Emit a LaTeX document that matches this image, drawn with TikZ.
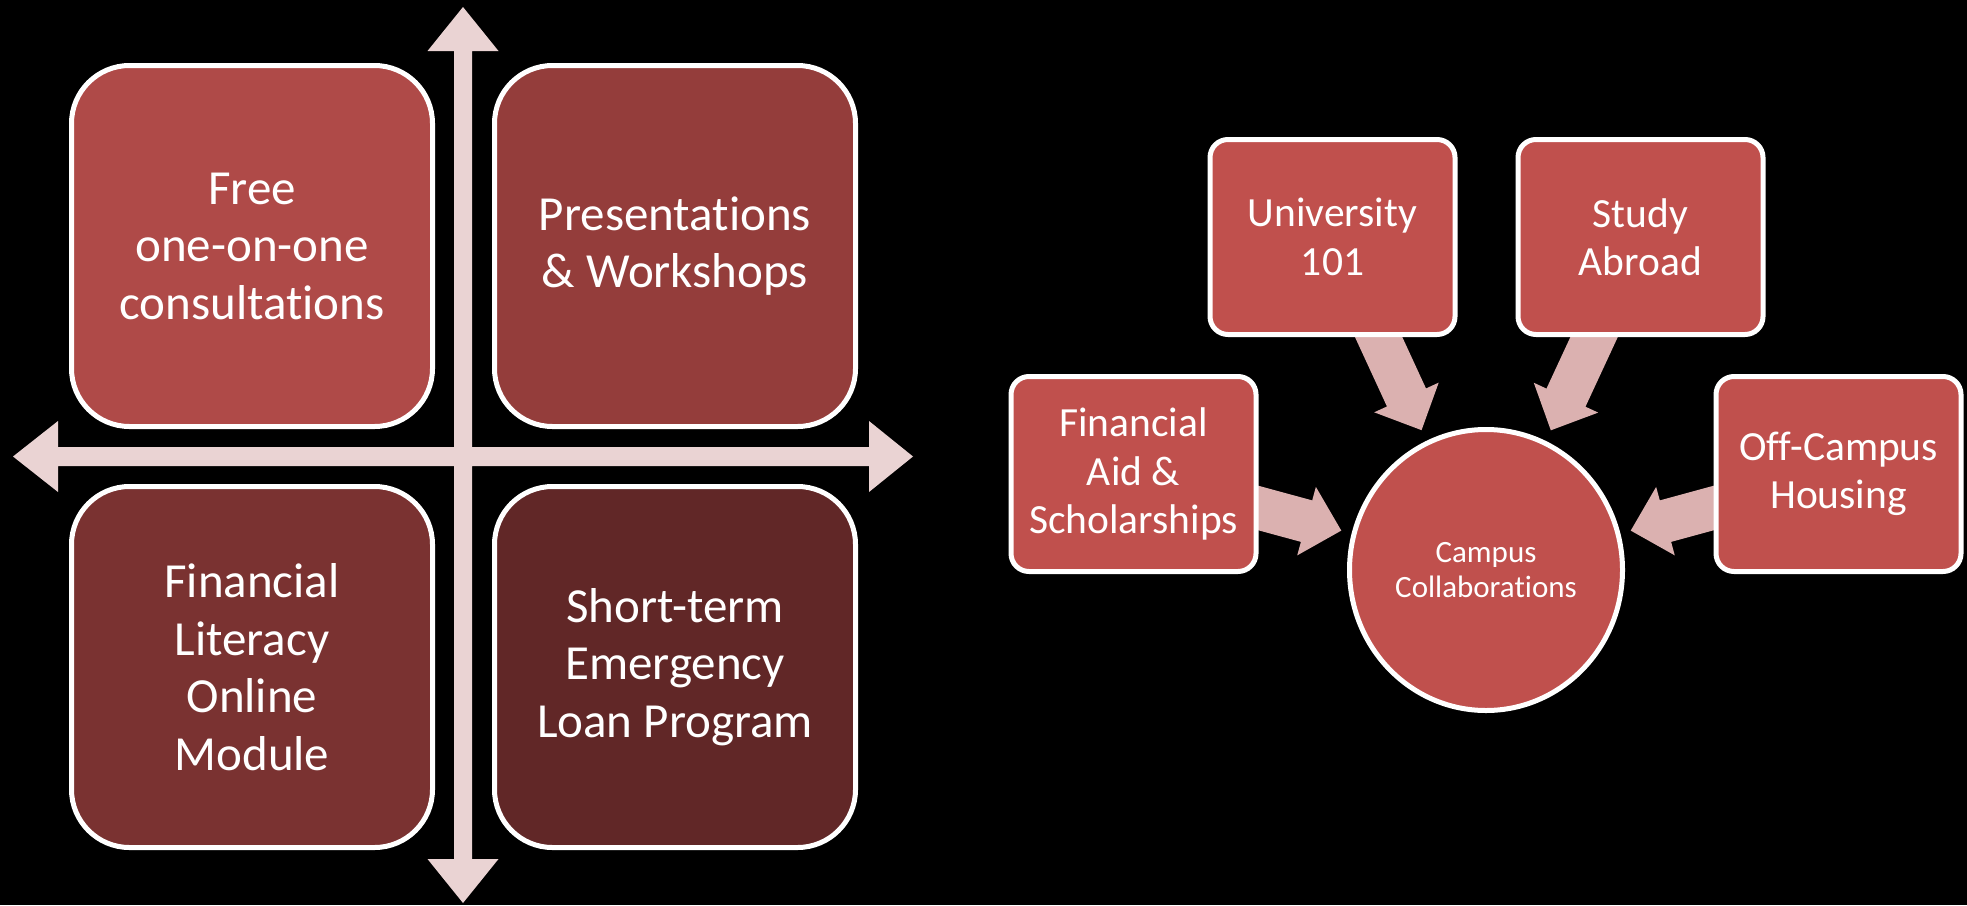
\documentclass[tikz,border=0pt]{standalone}
\usepackage{fontspec}
\setmainfont{Carlito}[Ligatures={NoCommon}]
\usetikzlibrary{calc,shapes.geometric}
\pgfdeclarelayer{bg}
\pgfsetlayers{bg,main}

\definecolor{accent}{HTML}{C0504D}
\definecolor{qone}{HTML}{AF4A48}
\definecolor{qtwo}{HTML}{943D3B}
\definecolor{qthree}{HTML}{7A3231}
\definecolor{qfour}{HTML}{612727}
\definecolor{axiscol}{HTML}{EAD3D3}
\definecolor{feedcol}{HTML}{DBB1B0}

% block arrow: #1 start, #2 tip, #3 half shaft, #4 half head, #5 head length
\newcommand\blkarrow[5]{%
  \path coordinate (hb) at ($(#2)!#5!(#1)$);
  \fill[feedcol] ($(#1)!#3!90:(#2)$) -- ($(hb)!#3!90:(#2)$) -- ($(hb)!#4!90:(#2)$)
    -- (#2) -- ($(hb)!#4!-90:(#2)$) -- ($(hb)!#3!-90:(#2)$) -- ($(#1)!#3!-90:(#2)$) -- cycle;
}

\tikzset{
  quad/.style={rectangle, rounded corners=58pt, draw=white, line width=5pt,
    minimum width=361pt, minimum height=361pt, inner sep=0pt, text=white,
    align=center, font=\fontsize{49}{57.5}\selectfont},
  feeder/.style={rectangle, rounded corners=18pt, draw=white, line width=5pt,
    fill=accent, minimum width=245pt, minimum height=195pt, inner sep=0pt,
    text=white, align=center, font=\fontsize{41.5}{48.5}\selectfont},
  hubstyle/.style={ellipse, draw=white, line width=5pt, fill=accent,
    minimum width=273pt, minimum height=281pt, inner sep=0pt, text=white,
    align=center, font=\fontsize{31}{35.5}\selectfont},
}

\begin{document}
\begin{tikzpicture}[x=1pt, y=-1pt]
\useasboundingbox (0,0) rectangle (1967,905);
\begin{pgfonlayer}{bg}
  \fill[black] (0,0) rectangle (1967,905);
\end{pgfonlayer}

% crossing double-headed axes
\fill[axiscol] (463,7) -- (498.5,51) -- (472,51) -- (472,447) -- (869,447) -- (869,421)
  -- (913,456.5) -- (869,492) -- (869,466) -- (472,466) -- (472,859) -- (498.5,859)
  -- (463,903) -- (427.5,859) -- (454,859) -- (454,466) -- (58,466) -- (58,492)
  -- (13,456.5) -- (58,421) -- (58,447) -- (454,447) -- (454,51) -- (427.5,51) -- cycle;

% four quadrants
\node[quad, fill=qone]   (free) at (252,246) {Free\\one-on-one\\consultations};
\node[quad, fill=qtwo]   (pres) at (675,246) {Presentations\\\& Workshops};
\node[quad, fill=qthree] (lit)  at (252,667) {Financial\\Literacy\\Online\\Module};
\node[quad, fill=qfour]  (loan) at (675,667) {Short-term\\Emergency\\Loan Program};

% campus collaborations
\node[hubstyle] (hub) at (1486,570) {Campus\\Collaborations};
\node[feeder] (uni)   at (1332.5,237) {University\\101};
\node[feeder] (study) at (1640.5,237) {Study\\Abroad};
\node[feeder] (aid)   at (1133.5,474) {Financial\\Aid \&\\Scholarships};
\node[feeder] (house) at (1838.5,474) {Off-Campus\\Housing};

\begin{pgfonlayer}{bg}
  \coordinate (taid)   at ($(hub.center)!150pt!(aid.center)$);
  \coordinate (tuni)   at ($(hub.center)!154pt!(uni.center)$);
  \coordinate (tstudy) at ($(hub.center)!154pt!(study.center)$);
  \coordinate (thouse) at ($(hub.center)!150pt!(house.center)$);
  \blkarrow{aid.center}{taid}{21.5pt}{35.5pt}{36pt}
  \blkarrow{uni.center}{tuni}{21.5pt}{35.5pt}{36pt}
  \blkarrow{study.center}{tstudy}{21.5pt}{35.5pt}{36pt}
  \blkarrow{house.center}{thouse}{21.5pt}{35.5pt}{36pt}
\end{pgfonlayer}
\end{tikzpicture}
\end{document}
